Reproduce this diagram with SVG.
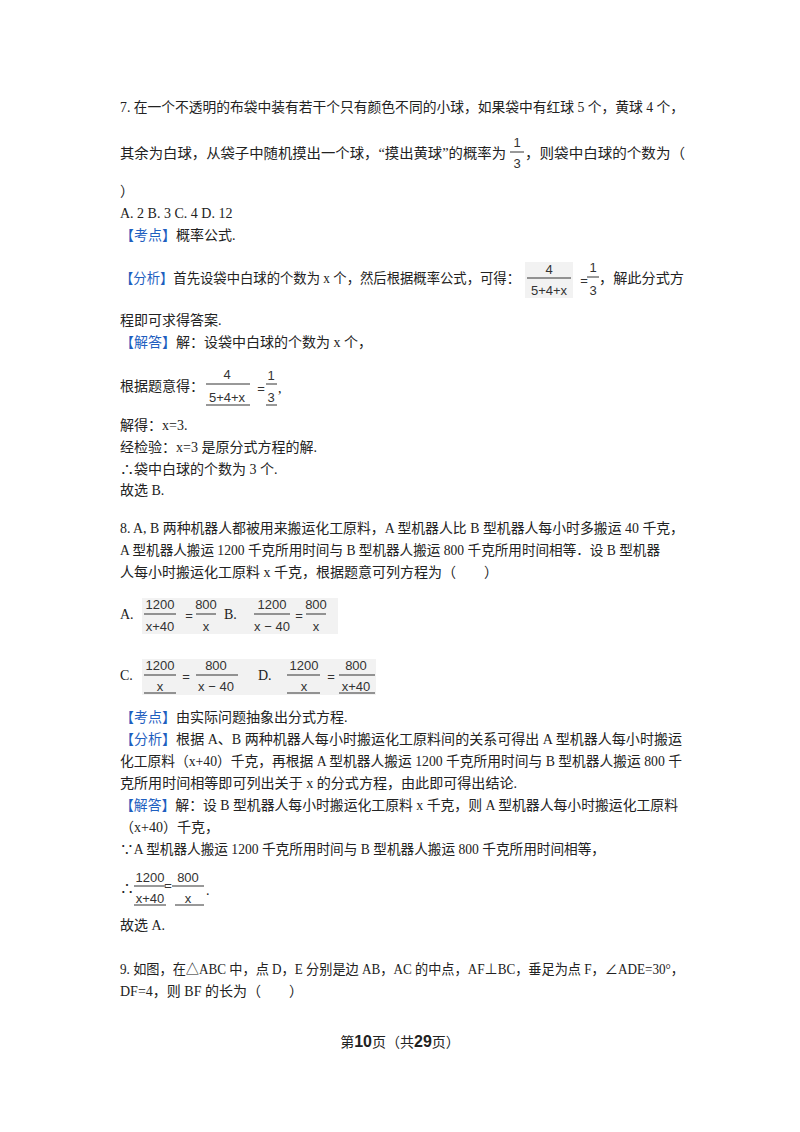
<svg xmlns="http://www.w3.org/2000/svg" width="800" height="1132" viewBox="0 0 800 1132">
<style>
text{font-family:"Liberation Serif","Noto Sans CJK SC",serif;font-size:14px;fill:#222}
.b{fill:#1f5fbf}
.f{font-family:"Liberation Sans","Noto Sans CJK SC",sans-serif;font-size:13px;fill:#333;text-anchor:middle}
.l{stroke:#333;stroke-width:1}
.bg{fill:#f2f2f2}
</style>
<rect width="800" height="1132" fill="#fff"/>
<text x="120" y="112" textLength="564" lengthAdjust="spacingAndGlyphs">7. 在一个不透明的布袋中装有若干个只有颜色不同的小球，如果袋中有红球 5 个，黄球 4 个，</text>
<text x="120" y="158" textLength="386" lengthAdjust="spacingAndGlyphs">其余为白球，从袋子中随机摸出一个球，“摸出黄球”的概率为</text>
<text class="f" x="517" y="147" font-size="16">1</text><line class="l" x1="510" y1="152" x2="524" y2="152"/><text class="f" x="517" y="168" font-size="16">3</text>
<text x="525" y="158" textLength="160" lengthAdjust="spacingAndGlyphs">，则袋中白球的个数为（</text>
<text x="120" y="196">）</text>
<text x="120" y="218">A. 2 B. 3 C. 4 D.  12</text>
<text x="120" y="240"><tspan class="b">【考点】</tspan>概率公式.</text>
<text x="120" y="283" textLength="400" lengthAdjust="spacingAndGlyphs"><tspan class="b">【分析】</tspan>首先设袋中白球的个数为 x 个，然后根据概率公式，可得：</text>
<rect class="bg" x="525" y="262" width="48" height="36"/>
<text class="f" x="549" y="274">4</text><line class="l" x1="527" y1="278" x2="571" y2="278"/><text class="f" x="549" y="295">5+4+x</text>
<text class="f" x="584" y="285">=</text>
<text class="f" x="593" y="272">1</text><line class="l" x1="587" y1="277" x2="599" y2="277"/><text class="f" x="593" y="295">3</text>
<text x="599" y="283" textLength="85" lengthAdjust="spacingAndGlyphs">，解此分式方</text>
<text x="120" y="325">程即可求得答案.</text>
<text x="120" y="347"><tspan class="b">【解答】</tspan>解：设袋中白球的个数为 x 个，</text>
<text x="120" y="391">根据题意得：</text>
<text class="f" x="227" y="379">4</text><line class="l" x1="206" y1="384" x2="250" y2="384"/><text class="f" x="227" y="402">5+4+x</text><line class="l" x1="206" y1="405" x2="250" y2="405"/>
<text class="f" x="261" y="393">=</text>
<text class="f" x="271" y="380">1</text><line class="l" x1="266" y1="384" x2="277" y2="384"/><text class="f" x="271" y="402">3</text><line class="l" x1="266" y1="405" x2="277" y2="405"/>
<text x="278" y="393">,</text>
<text x="120" y="430">解得：x=3.</text>
<text x="120" y="452">经检验：x=3 是原分式方程的解.</text>
<text x="120" y="474">∴袋中白球的个数为 3 个.</text>
<text x="120" y="495">故选 B.</text>
<text x="120" y="533" textLength="564" lengthAdjust="spacingAndGlyphs">8. A, B 两种机器人都被用来搬运化工原料，A 型机器人比 B 型机器人每小时多搬运 40 千克，</text>
<text x="120" y="555" textLength="540" lengthAdjust="spacingAndGlyphs">A 型机器人搬运 1200 千克所用时间与 B 型机器人搬运 800 千克所用时间相等．设 B 型机器</text>
<text x="120" y="577">人每小时搬运化工原料 x 千克，根据题意可列方程为（　　）</text>
<text x="120" y="619">A.</text>
<rect class="bg" x="142" y="598" width="196" height="36"/>
<text class="f" x="160" y="609">1200</text><line class="l" x1="144" y1="614" x2="176" y2="614"/><text class="f" x="160" y="631">x+40</text>
<text class="f" x="189" y="620">=</text>
<text class="f" x="206" y="609">800</text><line class="l" x1="196" y1="614" x2="216" y2="614"/><text class="f" x="206" y="631">x</text>
<text x="224" y="619">B.</text>
<text class="f" x="272" y="609">1200</text><line class="l" x1="254" y1="614" x2="290" y2="614"/><text class="f" x="272" y="631">x − 40</text>
<text class="f" x="299" y="620">=</text>
<text class="f" x="316" y="609">800</text><line class="l" x1="306" y1="614" x2="326" y2="614"/><text class="f" x="316" y="631">x</text>
<text x="120" y="680">C.</text>
<rect class="bg" x="142" y="659" width="234" height="36"/>
<text class="f" x="160" y="670">1200</text><line class="l" x1="144" y1="675" x2="176" y2="675"/><text class="f" x="160" y="691">x</text><line class="l" x1="144" y1="693" x2="176" y2="693"/>
<text class="f" x="186" y="681">=</text>
<text class="f" x="216" y="670">800</text><line class="l" x1="196" y1="675" x2="238" y2="675"/><text class="f" x="216" y="691">x − 40</text>
<text x="258" y="680">D.</text>
<text class="f" x="304" y="670">1200</text><line class="l" x1="287" y1="675" x2="320" y2="675"/><text class="f" x="304" y="691">x</text><line class="l" x1="287" y1="693" x2="320" y2="693"/>
<text class="f" x="331" y="681">=</text>
<text class="f" x="356" y="670">800</text><line class="l" x1="339" y1="675" x2="375" y2="675"/><text class="f" x="356" y="691">x+40</text><line class="l" x1="339" y1="693" x2="375" y2="693"/>
<text x="120" y="722"><tspan class="b">【考点】</tspan>由实际问题抽象出分式方程.</text>
<text x="120" y="744" textLength="562" lengthAdjust="spacingAndGlyphs"><tspan class="b">【分析】</tspan>根据 A、B 两种机器人每小时搬运化工原料间的关系可得出 A 型机器人每小时搬运</text>
<text x="120" y="766" textLength="562" lengthAdjust="spacingAndGlyphs">化工原料（x+40）千克，再根据 A 型机器人搬运 1200 千克所用时间与 B 型机器人搬运 800 千</text>
<text x="120" y="788" textLength="397" lengthAdjust="spacingAndGlyphs">克所用时间相等即可列出关于 x 的分式方程，由此即可得出结论.</text>
<text x="120" y="810" textLength="558" lengthAdjust="spacingAndGlyphs"><tspan class="b">【解答】</tspan>解：设 B 型机器人每小时搬运化工原料 x 千克，则 A 型机器人每小时搬运化工原料</text>
<text x="120" y="832">（x+40）千克，</text>
<text x="120" y="854" textLength="485" lengthAdjust="spacingAndGlyphs">∵A 型机器人搬运 1200 千克所用时间与 B 型机器人搬运 800 千克所用时间相等，</text>
<text x="120" y="893">∴</text>
<text class="f" x="150" y="882">1200</text><line class="l" x1="134" y1="886" x2="166" y2="886"/><text class="f" x="150" y="903">x+40</text><line class="l" x1="134" y1="905" x2="166" y2="905"/>
<text class="f" x="168" y="890">=</text>
<text class="f" x="188" y="882">800</text><line class="l" x1="172" y1="886" x2="204" y2="886"/><text class="f" x="188" y="903">x</text><line class="l" x1="175" y1="905" x2="204" y2="905"/>
<text x="206" y="895">.</text>
<text x="120" y="930">故选 A.</text>
<text x="120" y="974" textLength="564" lengthAdjust="spacingAndGlyphs">9. 如图，在△ABC 中，点 D，E 分别是边 AB，AC 的中点，AF⊥BC，垂足为点 F，∠ADE=30°，</text>
<text x="120" y="996">DF=4，则 BF 的长为（　　）</text>
<text x="400" y="1047" text-anchor="middle" font-size="13">第<tspan font-weight="bold" font-size="16" font-family="Liberation Sans,sans-serif">10</tspan>页（共<tspan font-weight="bold" font-size="16" font-family="Liberation Sans,sans-serif">29</tspan>页）</text>
</svg>
